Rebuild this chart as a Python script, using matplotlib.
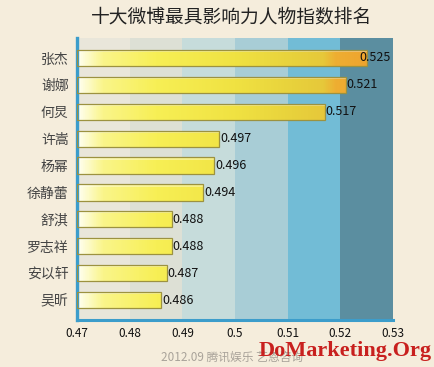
import numpy as np
import matplotlib
matplotlib.use("Agg")
import matplotlib.pyplot as plt
from matplotlib.colors import LinearSegmentedColormap

plt.rcParams['font.family'] = ['Noto Sans CJK SC', 'DejaVu Sans']

names = ["张杰", "谢娜", "何炅", "许嵩", "杨幂", "徐静蕾", "舒淇", "罗志祥", "安以轩", "吴昕"]
values = [0.525, 0.521, 0.517, 0.497, 0.496, 0.494, 0.488, 0.488, 0.487, 0.486]
xticks = [0.47, 0.48, 0.49, 0.50, 0.51, 0.52, 0.53]
xtick_labels = ["0.47", "0.48", "0.49", "0.5", "0.51", "0.52", "0.53"]
band_colors = ["#E9E6DA", "#DDE0D5", "#C6DCDB", "#A8CDD6", "#72BCD6", "#5B8EA0"]
title = "十大微博最具影响力人物指数排名"
source = "2012.09 腾讯娱乐 艺恩咨询"
watermark = "DoMarketing.Org"

bg = "#F5EDDC"
fig = plt.figure(figsize=(4.35, 3.67), dpi=100, facecolor=bg)
ax = fig.add_axes([77/435, 1-320/367, 316/435, 282/367])
ax.set_facecolor(bg)

xmin, xmax = xticks[0], xticks[-1]
ax.set_xlim(xmin, xmax)
n = len(names)
ax.set_ylim(n - 1 + 0.74, -0.74)

for i in range(len(xticks) - 1):
    ax.axvspan(xticks[i], xticks[i+1], color=band_colors[i], lw=0, zorder=0)

ypos = np.arange(n)
h = 0.6
bars = ax.barh(ypos, [v - xmin for v in values], left=xmin, height=h,
               color="none", edgecolor="#9C9240", linewidth=0.9, zorder=3)

cmap = LinearSegmentedColormap.from_list("g", [
    (0.0, "#FFFFF2"), (0.08, "#FAF58A"), (0.25, "#F7EF55"),
    (0.50, "#F0E242"), (0.68, "#E8D23C"), (0.78, "#E6C83A"),
    (0.82, "#EEAE32"), (1.0, "#EE9C2C")])
grad = np.linspace(0, 1, 400).reshape(1, -1)
for i, (b, v) in enumerate(zip(bars, values)):
    im = ax.imshow(grad, cmap=cmap, aspect='auto',
                   extent=[xmin, xmax, i + h/2, i - h/2], zorder=2,
                   interpolation='bilinear')
    im.set_clip_path(b)
    ax.fill_between([xmin, v], i - h/2, i - h/2 + 0.08, color="white",
                    alpha=0.35, lw=0, zorder=2.5)
    if v + 0.0055 > xmax:
        ax.text(xmax - 0.0005, i, f"{v:.3f}", ha='right', va='center',
                fontsize=9, color="#111111", zorder=4)
    else:
        ax.text(v + 0.0002, i, f"{v:.3f}", ha='left', va='center',
                fontsize=9, color="#111111", zorder=4)

ax.set_yticks(ypos)
ax.set_yticklabels(names, fontsize=10, color="#444444")
ax.set_xticks(xticks)
ax.set_xticklabels(xtick_labels, fontsize=8.5, color="#111111")
ax.tick_params(axis='both', length=0)
ax.tick_params(axis='y', pad=6)
ax.tick_params(axis='x', pad=5)

for s in ["top", "right"]:
    ax.spines[s].set_visible(False)
ax.spines["left"].set_color("#3C9DCB")
ax.spines["left"].set_linewidth(2.4)
ax.spines["bottom"].set_color("#3C9DCB")
ax.spines["bottom"].set_linewidth(2.2)

fig.text(232/435, 1-17/367, title, ha='center', va='center', fontsize=13.5,
         color="#222222")
fig.text(232/435, 1-357/367, source, ha='center', va='center', fontsize=8.5,
         color="#A9A39A")
fig.text(345/435, 1-351/367, watermark, ha='center', va='center', fontsize=16,
         color="#C8201E", fontweight='bold', family=['Liberation Serif'])

fig.savefig("out.png", dpi=100, facecolor=bg)
